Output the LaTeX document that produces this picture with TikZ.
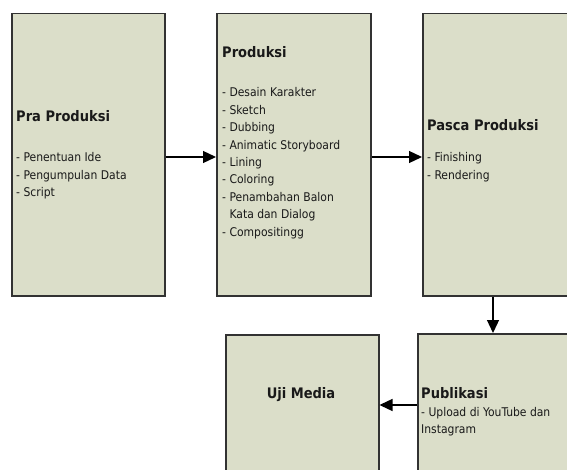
\documentclass[tikz,border=0pt]{standalone}
\usepackage{fontspec}
\setmainfont{DejaVu Sans Condensed}
\usetikzlibrary{arrows.meta}
\definecolor{boxfill}{RGB}{219,222,201}
\definecolor{boxline}{RGB}{50,50,50}
\definecolor{txt}{RGB}{25,25,25}
\tikzset{
  stagebox/.style={draw=boxline, line width=1.5pt, fill=boxfill, anchor=north west, inner sep=0pt},
  ttl/.style={anchor=base west, inner sep=0pt, text=txt, font=\fontsize{14.5}{16}\selectfont\bfseries},
  itm/.style={anchor=base west, inner sep=0pt, text=txt, align=left, font=\fontsize{12}{17.4}\selectfont},
  arr/.style={draw=black, line width=1.3pt, -{Triangle[length=13pt,width=12pt]}}
}
\begin{document}
\begin{tikzpicture}[x=1pt,y=-1pt]
\useasboundingbox (0,0) rectangle (567,470);
\clip (0,0) rectangle (567,470);
\fill[white] (0,0) rectangle (567,470);
% boxes
\node[stagebox, minimum width=153pt, minimum height=282pt] (pra) at (11,13) {};
\node[stagebox, minimum width=154pt, minimum height=282pt] (prod) at (216,13) {};
\node[stagebox, minimum width=160pt, minimum height=282pt] (pasca) at (422,13) {};
\node[stagebox, minimum width=153pt, minimum height=150pt] (uji) at (225,334) {};
\node[stagebox, minimum width=165pt, minimum height=150pt] (publ) at (417,333) {};
% texts (multi-line nodes: base = baseline of last line)
\node[ttl] (praT) at (16,122) {Pra Produksi};
\node[itm] (praI) at (16,196.8) {- Penentuan Ide\\- Pengumpulan Data\\- Script};
\node[ttl] (prodT) at (222,58) {Produksi};
\node[itm] (prodI) at (222,236.2) {- Desain Karakter\\- Sketch\\- Dubbing\\- Animatic Storyboard\\- Lining\\- Coloring\\- Penambahan Balon\\\phantom{- }Kata dan Dialog\\- Compositingg};
\node[ttl] (pascaT) at (427,131) {Pasca Produksi};
\node[itm] (pascaI) at (427,179.4) {- Finishing\\- Rendering};
\node[ttl, anchor=base] (ujiT) at (301,398) {Uji Media};
\node[ttl] (publT) at (421,398) {Publikasi};
\node[itm] (publI) at (421,433.4) {- Upload di YouTube dan\\Instagram};
% connectors
\coordinate (ay) at (0,157);
\coordinate (vx) at (493,0);
\coordinate (by) at (0,405);
\draw[arr] (pra.east |- ay) -- (prod.west |- ay);
\draw[arr] (prod.east |- ay) -- (pasca.west |- ay);
\draw[arr] (pasca.south -| vx) -- (publ.north -| vx);
\draw[arr] (publ.west |- by) -- (uji.east |- by);
\end{tikzpicture}
\end{document}
